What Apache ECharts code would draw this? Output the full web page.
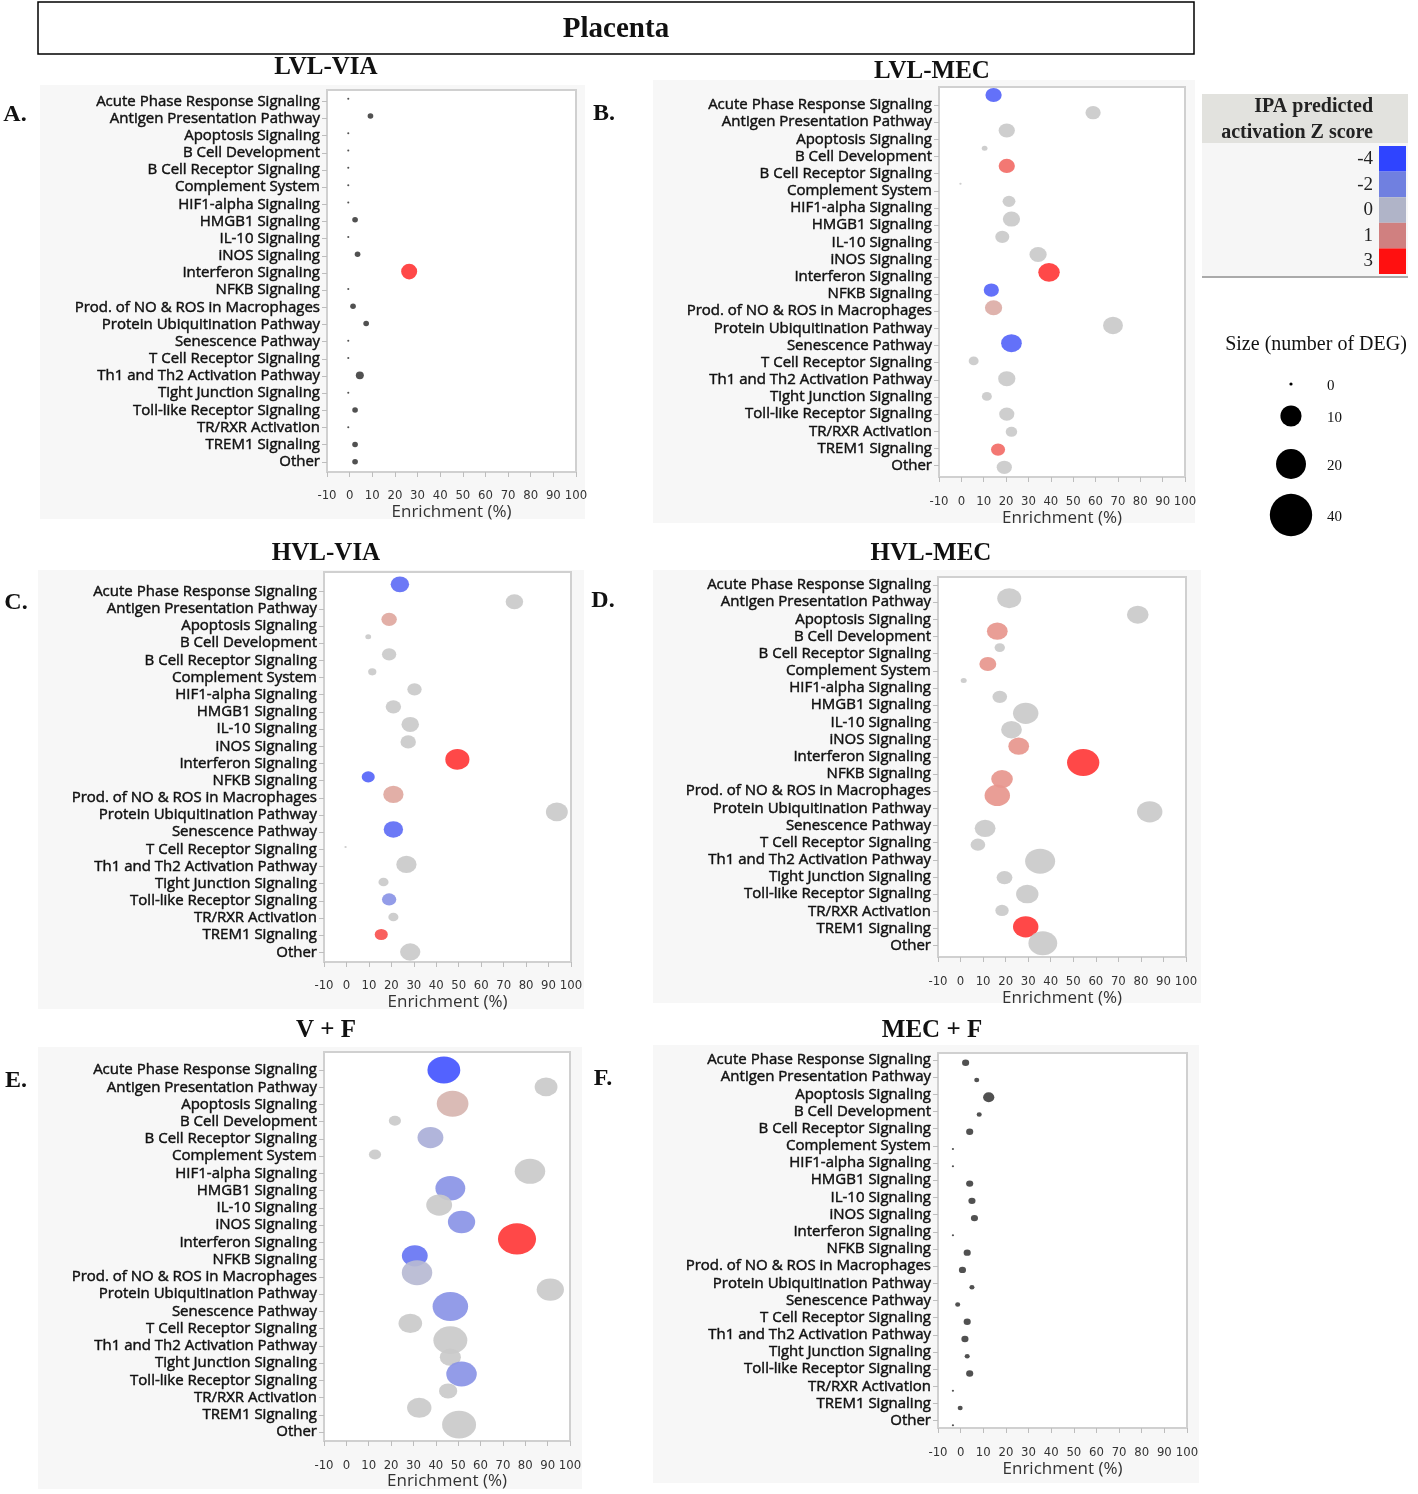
<!DOCTYPE html>
<html>
<head>
<meta charset="utf-8">
<title>Placenta</title>
<script src="https://cdn.jsdelivr.net/npm/echarts@6/dist/echarts.min.js"></script>
<style>
  html, body { margin: 0; padding: 0; background: #fff; }
  #chart { width: 1418px; height: 1494px; }
</style>
</head>
<body>
<div id="chart"></div>
<script>
// pathways (same order in every panel, top to bottom)
const pathways = [
  'Acute Phase Response Signaling', 'Antigen Presentation Pathway', 'Apoptosis Signaling',
  'B Cell Development', 'B Cell Receptor Signaling', 'Complement System', 'HIF1-alpha Signaling',
  'HMGB1 Signaling', 'IL-10 Signaling', 'iNOS Signaling', 'Interferon Signaling', 'NFKB Signaling',
  'Prod. of NO & ROS in Macrophages', 'Protein Ubiquitination Pathway', 'Senescence Pathway',
  'T Cell Receptor Signaling', 'Th1 and Th2 Activation Pathway', 'Tight Junction Signaling',
  'Toll-like Receptor Signaling', 'TR/RXR Activation', 'TREM1 Signaling', 'Other'
]
const enrichTicks = [-10, 0, 10, 20, 30, 40, 50, 60, 70, 80, 90, 100]

// A. LVL-VIA
const lvlViaEnrich = [-0.6, 9.2, -0.6, -0.6, -0.6, -0.6, -0.6, 2.4, -0.6, 3.5, 26.3, -0.6, 1.5, 7.3, -0.6, -0.6, 4.5, -0.6, 2.4, -0.6, 2.4, 2.4]
const lvlViaDeg = [0, 1, 0, 0, 0, 0, 0, 1, 0, 1, 8, 0, 1, 1, 0, 0, 2, 0, 1, 0, 1, 1]
const lvlViaZ = [null, null, null, null, null, null, null, null, null, null, 3, null, null, null, null, null, null, null, null, null, null, null]

// B. LVL-MEC
const lvlMecEnrich = [14.4, 58.9, 20.3, 10.4, 20.3, -0.4, 21.3, 22.4, 18.3, 34.3, 39.2, 13.4, 14.4, 67.8, 22.4, 5.5, 20.3, 11.4, 20.3, 22.4, 16.4, 19.2]
const lvlMecDeg = [8, 7, 8, 1, 8, 0, 5, 9, 6, 9, 14, 7, 9, 12, 13, 3, 9, 3, 7, 4, 6, 7]
const lvlMecZ = [-3.5, 0, 0, 0, 2, 0, 0, 0, 0, 0, 3, -3.5, 0.7, 0, -3.5, 0, 0, 0, 0, 0, 2, 0]

// C. HVL-VIA
const hvlViaEnrich = [23.8, 74.8, 19.0, 9.7, 19.0, 11.5, 30.3, 20.9, 28.4, 27.5, 49.4, 9.7, 20.9, 93.7, 20.9, -0.4, 26.7, 16.5, 19.0, 20.9, 15.5, 28.4]
const hvlViaDeg = [10, 9, 7, 1, 6, 2, 6, 7, 9, 7, 17, 5, 12, 14, 11, 0, 12, 3, 6, 3, 5, 12]
const hvlViaZ = [-3.2, 0, 0.8, 0, 0, 0, 0, 0, 0, 0, 3, -3.5, 0.8, 0, -3.2, 0, 0, 0, -2, 0, 2.5, 0]

// D. HVL-MEC
const hvlMecEnrich = [21.6, 78.6, 16.3, 17.4, 12.1, 1.4, 17.4, 28.9, 22.6, 25.8, 54.4, 18.4, 16.3, 83.9, 10.9, 7.7, 35.3, 19.5, 29.6, 18.4, 28.9, 36.5]
const hvlMecDeg = [16, 13, 12, 3, 8, 1, 6, 18, 12, 12, 29, 13, 18, 18, 12, 6, 25, 7, 14, 5, 18, 23]
const hvlMecZ = [0, 0, 1.2, 0, 1.2, 0, 0, 0, 0, 1.2, 3, 1.2, 1.2, 0, 0, 0, 0, 0, 0, 0, 3, 0]

// E. V + F
const vfEnrich = [43.6, 89.3, 47.5, 21.7, 37.6, 12.8, 82.1, 46.5, 41.5, 51.5, 76.3, 30.6, 31.6, 91.2, 46.5, 28.6, 46.5, 46.5, 51.5, 45.5, 32.6, 50.4]
const vfDeg = [29, 14, 27, 4, 18, 4, 25, 24, 18, 20, 39, 18, 25, 20, 34, 15, 31, 12, 25, 9, 16, 31]
const vfZ = [-4, 0, 0.5, 0, -1, 0, 0, -2, 0, -2, 3, -3, -0.6, 0, -2, 0, 0, 0, -2, 0, 0, 0]

// F. MEC + F
const mecFEnrich = [2.2, 7.1, 12.4, 8.2, 4.0, -3.4, -3.4, 4.0, 5.0, 6.1, -3.4, 2.9, 0.8, 5.0, -1.3, 2.9, 1.9, 2.9, 4.0, -3.4, -0.2, -3.4]
const mecFDeg = [2, 1, 5, 1, 2, 0, 0, 2, 2, 2, 0, 2, 2, 1, 1, 2, 2, 1, 2, 0, 1, 0]
const mecFZ = pathways.map(() => null)

// legends
const zLegendValues = [-4, -2, 0, 1, 3]
const sizeLegendValues = [0, 10, 20, 40]

// colours
const zStops = [-4, -2, 0, 1, 3]
const zStopColors = ['#4455ff', '#8a94e6', '#cacaca', '#e4a096', '#ff3838']
const zSwatchColors = ['#2f44ff', '#7080e0', '#b0b4c8', '#d08080', '#ff1010']
const noZColor = '#424242'

const hexToRgb = h => [1, 3, 5].map(i => parseInt(h.slice(i, i + 2), 16))
const zColor = z => {
  if (z === null || z === undefined) return noZColor
  if (z <= zStops[0]) return zStopColors[0]
  for (let i = 1; i < zStops.length; i++) {
    if (z <= zStops[i]) {
      const t = (z - zStops[i - 1]) / (zStops[i] - zStops[i - 1])
      const a = hexToRgb(zStopColors[i - 1])
      const b = hexToRgb(zStopColors[i])
      const c = a.map((v, k) => Math.round(v + (b[k] - v) * t))
      return `rgb(${c[0]},${c[1]},${c[2]})`
    }
  }
  return zStopColors[zStopColors.length - 1]
}

// layout of the six panels (pixels)
const panels = [
  { letter: 'A.', title: 'LVL-VIA', enrich: lvlViaEnrich, deg: lvlViaDeg, z: lvlViaZ,
    box: [327, 90, 576, 472], labelRows: [101.4, 461.8], bubbleRows: [98.7, 461.8],
    bg: [40, 85, 585, 519], titlePos: [326, 68], letterPos: [15, 115], tickY: 495, nameY: 513, k: 5.5, aspect: 1.03 },
  { letter: 'B.', title: 'LVL-MEC', enrich: lvlMecEnrich, deg: lvlMecDeg, z: lvlMecZ,
    box: [939, 87, 1185, 477], labelRows: [105, 465.7], bubbleRows: [95, 467.3],
    bg: [653, 80, 1195, 523], titlePos: [932, 72], letterPos: [604, 114], tickY: 501, nameY: 519, k: 5, aspect: 1.15 },
  { letter: 'C.', title: 'HVL-VIA', enrich: hvlViaEnrich, deg: hvlViaDeg, z: hvlViaZ,
    box: [324, 572, 571, 962], labelRows: [591.7, 952.3], bubbleRows: [584.3, 952],
    bg: [38, 570, 584, 1009], titlePos: [326, 554], letterPos: [16, 603], tickY: 985, nameY: 1003, k: 5, aspect: 1.17 },
  { letter: 'D.', title: 'HVL-MEC', enrich: hvlMecEnrich, deg: hvlMecDeg, z: hvlMecZ,
    box: [938, 577, 1186, 957], labelRows: [585, 945.7], bubbleRows: [598.3, 943.3],
    bg: [653, 570, 1201, 1003], titlePos: [931, 554], letterPos: [603, 601], tickY: 981, nameY: 999, k: 5, aspect: 1.2 },
  { letter: 'E.', title: 'V + F', enrich: vfEnrich, deg: vfDeg, z: vfZ,
    box: [324, 1052, 570, 1441], labelRows: [1070, 1432], bubbleRows: [1070, 1424.7],
    bg: [38, 1047, 582, 1489], titlePos: [326, 1031], letterPos: [16, 1081], tickY: 1465, nameY: 1481, k: 5, aspect: 1.22 },
  { letter: 'F.', title: 'MEC + F', enrich: mecFEnrich, deg: mecFDeg, z: mecFZ,
    box: [938, 1053, 1187, 1428], labelRows: [1060, 1420.7], bubbleRows: [1062.7, 1425.3],
    bg: [653, 1045, 1199, 1483], titlePos: [932, 1031], letterPos: [603, 1079], tickY: 1452, nameY: 1470, k: 4.5, aspect: 1.12 }
]

const serif = "'Liberation Serif', 'DejaVu Serif', serif"
const sans = "'Open Sans', 'Noto Sans', sans-serif"
const narrow = "'Liberation Sans Narrow', 'DejaVu Sans Condensed', 'Roboto Condensed', sans-serif"

const grids = []
const xAxes = []
const yAxes = []
const series = []
const graphics = []

const rowGrid = rows => {
  const s = (rows[1] - rows[0]) / (pathways.length - 1)
  return { top: rows[0] - s / 2, height: s * pathways.length }
}

panels.forEach(p => {
  const [x0, y0, x1, y1] = p.box
  const left = x0
  const width = x1 - x0

  // frame + enrichment axis
  const gBox = grids.length
  grids.push({ left, width, top: y0, height: y1 - y0, show: true, backgroundColor: '#fff', borderColor: '#d0d0d0', borderWidth: 2 })
  xAxes.push({
    gridIndex: gBox, type: 'value',
    min: enrichTicks[0], max: enrichTicks[enrichTicks.length - 1], interval: enrichTicks[1] - enrichTicks[0],
    splitLine: { show: false },
    axisLine: { show: true, lineStyle: { color: '#d0d0d0', width: 2 } },
    axisTick: { show: true, length: 5, lineStyle: { color: '#bdbdbd' } },
    axisLabel: { color: '#333', fontFamily: narrow, fontSize: 13, margin: p.tickY - y1 - 6 },
    name: 'Enrichment (%)', nameLocation: 'middle', nameGap: p.nameY - y1 - 9,
    nameTextStyle: { color: '#333', fontFamily: sans, fontSize: 17 }
  })
  yAxes.push({ gridIndex: gBox, type: 'value', show: false })

  // pathway labels
  const gLab = grids.length
  const lr = rowGrid(p.labelRows)
  grids.push({ left, width, top: lr.top, height: lr.height, show: false })
  xAxes.push({ gridIndex: gLab, type: 'value', show: false })
  yAxes.push({
    gridIndex: gLab, type: 'category', data: pathways, inverse: true,
    axisLine: { show: false },
    axisTick: { show: true, interval: 0, alignWithLabel: true, length: 5, lineStyle: { color: '#bdbdbd' } },
    axisLabel: {
      interval: 0, color: '#111', fontFamily: sans, fontSize: 15, margin: 7,
      textBorderColor: '#111', textBorderWidth: 0.45
    }
  })

  // bubbles
  const gBub = grids.length
  const br = rowGrid(p.bubbleRows)
  grids.push({ left, width, top: br.top, height: br.height, show: false })
  xAxes.push({ gridIndex: gBub, type: 'value', show: false, min: enrichTicks[0], max: enrichTicks[enrichTicks.length - 1] })
  yAxes.push({ gridIndex: gBub, type: 'category', data: pathways, inverse: true, show: false })

  series.push({
    type: 'scatter',
    xAxisIndex: gBub, yAxisIndex: gBub,
    silent: true,
    data: pathways.map((name, j) => [p.enrich[j], name, p.deg[j], p.z[j]]),
    symbolSize: v => {
      const d = Math.max(2, p.k * Math.sqrt(v[2]))
      return [d * p.aspect, d]
    },
    itemStyle: { color: params => zColor(params.data[3]), opacity: 0.92 }
  })

  // panel background, title and letter
  graphics.push({ type: 'rect', z: -10, shape: { x: p.bg[0], y: p.bg[1], width: p.bg[2] - p.bg[0], height: p.bg[3] - p.bg[1] }, style: { fill: '#f7f7f7' } })
  graphics.push({ type: 'text', x: p.titlePos[0], y: p.titlePos[1], style: { text: p.title, font: `bold 25px ${serif}`, fill: '#111', align: 'center', verticalAlign: 'middle' } })
  graphics.push({ type: 'text', x: p.letterPos[0], y: p.letterPos[1], style: { text: p.letter, font: `bold 24px ${serif}`, fill: '#111', align: 'center', verticalAlign: 'middle' } })
})

// main title box
graphics.push({ type: 'rect', shape: { x: 38, y: 2, width: 1156, height: 52 }, style: { fill: 'none', stroke: '#000', lineWidth: 1.5 } })
graphics.push({ type: 'text', x: 616, y: 30, style: { text: 'Placenta', font: `bold 29px ${serif}`, fill: '#111', align: 'center', verticalAlign: 'middle' } })

// z-score legend
graphics.push({ type: 'rect', shape: { x: 1202, y: 94, width: 206, height: 49 }, style: { fill: '#e2e2de' } })
graphics.push({ type: 'rect', shape: { x: 1202, y: 143, width: 206, height: 134 }, style: { fill: '#f6f6f6' } })
graphics.push({ type: 'line', shape: { x1: 1202, y1: 277, x2: 1408, y2: 277 }, style: { stroke: '#aaa', lineWidth: 2 } })
graphics.push({ type: 'text', x: 1373, y: 107, style: { text: 'IPA predicted', font: `bold 20px ${serif}`, fill: '#222', align: 'right', verticalAlign: 'middle' } })
graphics.push({ type: 'text', x: 1373, y: 133, style: { text: 'activation Z score', font: `bold 20px ${serif}`, fill: '#222', align: 'right', verticalAlign: 'middle' } })
zLegendValues.forEach((v, i) => {
  const y = 146 + i * 25.6
  graphics.push({ type: 'rect', shape: { x: 1379, y, width: 27, height: 25.6 }, style: { fill: zSwatchColors[i] } })
  graphics.push({ type: 'text', x: 1373, y: y + 13, style: { text: String(v), font: `19px ${serif}`, fill: '#222', align: 'right', verticalAlign: 'middle' } })
})

// size legend
graphics.push({ type: 'text', x: 1316, y: 345, style: { text: 'Size (number of DEG)', font: `20px ${serif}`, fill: '#111', align: 'center', verticalAlign: 'middle' } })
const sizeLegendY = [384, 416, 464, 515]
sizeLegendValues.forEach((v, i) => {
  const r = Math.max(1.6, 3.35 * Math.sqrt(v))
  graphics.push({ type: 'circle', shape: { cx: 1291, cy: sizeLegendY[i], r }, style: { fill: '#000' } })
  graphics.push({ type: 'text', x: 1327, y: sizeLegendY[i] + 2, style: { text: String(v), font: `15px ${serif}`, fill: '#111', align: 'left', verticalAlign: 'middle' } })
})

const chart = echarts.init(document.getElementById('chart'))
chart.setOption({
  backgroundColor: '#fff',
  animation: false,
  grid: grids,
  xAxis: xAxes,
  yAxis: yAxes,
  series,
  graphic: { elements: graphics }
})
</script>
</body>
</html>
